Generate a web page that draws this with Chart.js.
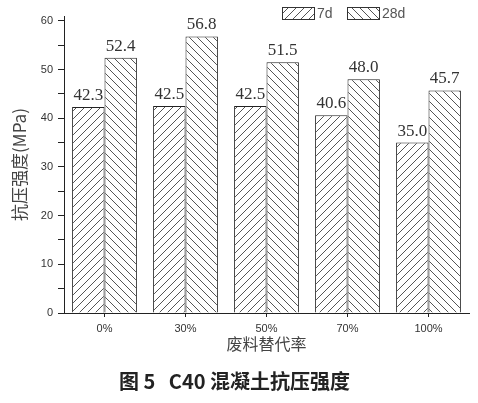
<!DOCTYPE html>
<html>
<head>
<meta charset="utf-8">
<script src="https://cdn.jsdelivr.net/npm/chart.js@4"></script>
<style>
  html, body { margin: 0; padding: 0; background: #fff; }
  #wrap { width: 478px; height: 403px; }
</style>
</head>
<body>
<div id="wrap"><canvas id="chart" width="478" height="403"></canvas></div>
<script>
// data
const categories = ["0%", "30%", "50%", "70%", "100%"];
const seriesNames = ["7d", "28d"];
const strength7d = [42.3, 42.5, 42.5, 40.6, 35.0];
const strength28d = [52.4, 56.8, 51.5, 48.0, 45.7];
const yTicks = [0, 5, 10, 15, 20, 25, 30, 35, 40, 45, 50, 55, 60];
const yLabelStep = 10;
const yMax = 61;

// hatch fill, dir 1 = "///", dir -1 = "\\\"
function hatch(dir) {
    const s = 8;
    const c = document.createElement("canvas");
    c.width = s; c.height = s;
    const g = c.getContext("2d");
    g.fillStyle = "#fff";
    g.fillRect(0, 0, s, s);
    g.strokeStyle = "#555";
    g.lineWidth = 1;
    g.beginPath();
    if (dir > 0) {
        g.moveTo(-1, s + 1); g.lineTo(s + 1, -1);
        g.moveTo(-1, 1); g.lineTo(1, -1);
        g.moveTo(s - 1, s + 1); g.lineTo(s + 1, s - 1);
    } else {
        g.moveTo(-1, -1); g.lineTo(s + 1, s + 1);
        g.moveTo(s - 1, -1); g.lineTo(s + 1, 1);
        g.moveTo(-1, s - 1); g.lineTo(1, s + 1);
    }
    g.stroke();
    return g.createPattern(c, "repeat");
}

const fills = [hatch(1), hatch(-1)];

// value labels above the bars
const valueLabels = {
    id: "valueLabels",
    afterDatasetsDraw(chart) {
        const ctx = chart.ctx;
        ctx.save();
        ctx.font = "17px 'Liberation Serif', serif";
        ctx.fillStyle = "#333";
        ctx.textAlign = "center";
        ctx.textBaseline = "bottom";
        chart.data.datasets.forEach((ds, i) => {
            chart.getDatasetMeta(i).data.forEach((bar, j) => {
                ctx.fillText(ds.data[j].toFixed(1), bar.x, bar.y - 3);
            });
        });
        ctx.restore();
    }
};

// legend in the upper right, like the original
const hatchLegend = {
    id: "hatchLegend",
    afterDraw(chart) {
        const ctx = chart.ctx;
        const xs = [282, 347];
        ctx.save();
        ctx.font = "14px 'Liberation Sans', sans-serif";
        ctx.textBaseline = "middle";
        chart.data.datasets.forEach((ds, i) => {
            const x = xs[i], y = 7, w = 32, h = 12;
            ctx.fillStyle = ds.backgroundColor;
            ctx.fillRect(x, y, w, h);
            ctx.strokeStyle = "#333";
            ctx.lineWidth = 1;
            ctx.strokeRect(x + 0.5, y + 0.5, w, h);
            ctx.fillStyle = "#555";
            ctx.fillText(ds.label, x + w + 3, y + h / 2 + 1);
        });
        ctx.restore();
    }
};

Chart.defaults.font.family = "'Liberation Sans', Arial, sans-serif";

new Chart("chart", {
    type: "bar",
    data: {
        labels: categories,
        datasets: [{
            label: seriesNames[0],
            data: strength7d,
            backgroundColor: fills[0],
            borderColor: "#222",
            borderWidth: 1
        }, {
            label: seriesNames[1],
            data: strength28d,
            backgroundColor: fills[1],
            borderColor: "#222",
            borderWidth: 1
        }]
    },
    options: {
        responsive: false,
        animation: false,
        categoryPercentage: 0.8,
        barPercentage: 1.0,
        layout: {padding: {top: 16, right: 9, left: 0, bottom: 0}},
        plugins: {
            legend: {display: false},
            tooltip: {enabled: false},
            title: {
                display: true,
                position: "bottom",
                text: "图 5   C40 混凝土抗压强度",
                color: "#222",
                font: {family: "'Noto Sans CJK SC', sans-serif", size: 20, weight: "bold", lineHeight: 1.2},
                padding: {top: 11, bottom: 10}
            }
        },
        scales: {
            x: {
                grid: {display: true, drawOnChartArea: false, offset: false, tickLength: 4, color: "#222"},
                border: {color: "#222", width: 1},
                ticks: {color: "#333", font: {size: 11}, padding: 5, maxRotation: 0},
                title: {
                    display: true,
                    text: "废料替代率",
                    color: "#444",
                    font: {family: "'Noto Sans CJK SC', sans-serif", size: 16, lineHeight: 1.2},
                    padding: {top: 0, bottom: 4}
                },
                afterFit(scale) { scale.height = 45; }
            },
            y: {
                min: 0,
                max: yMax,
                grid: {display: true, drawOnChartArea: false, tickLength: 6, color: "#222"},
                border: {color: "#222", width: 1},
                ticks: {
                    color: "#333",
                    font: {size: 11},
                    padding: 5,
                    callback: v => (v % yLabelStep === 0 ? v : "")
                },
                afterBuildTicks(scale) {
                    scale.ticks = yTicks.map(v => ({value: v}));
                },
                title: {
                    display: true,
                    text: "抗压强度(MPa)",
                    color: "#444",
                    font: {family: "'Noto Sans CJK SC', sans-serif", size: 17, lineHeight: 1.2},
                    padding: {top: 9, bottom: 0}
                },
                afterFit(scale) { scale.width = 64; }
            }
        }
    },
    plugins: [valueLabels, hatchLegend]
});
</script>
</body>
</html>
